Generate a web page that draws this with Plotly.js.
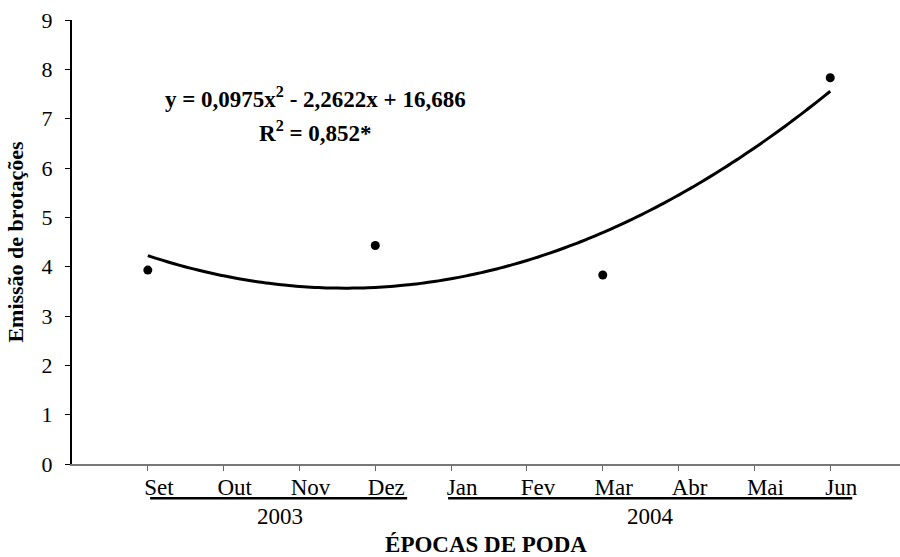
<!DOCTYPE html>
<html>
<head>
<meta charset="utf-8">
<script src="https://cdn.plot.ly/plotly-3.0.1.min.js"></script>
<style>
  html, body { margin: 0; padding: 0; background: #fff; }
  #chart { width: 900px; height: 557px; }
</style>
</head>
<body>
<div id="chart"></div>
<script>
// Pruning months (numbered from Jan 2003 = 1) and their labels
const monthNums = [9, 10, 11, 12, 13, 14, 15, 16, 17, 18];
const monthLabels = ['Set', 'Out', 'Nov', 'Dez', 'Jan', 'Fev', 'Mar', 'Abr', 'Mai', 'Jun'];

// Observed shoot emission
const obsMonths = [9, 12, 15, 18];
const obsValues = [3.93, 4.43, 3.83, 7.83];

// Quadratic fit: y = a x^2 + b x + c
const fitA = 0.0975, fitB = -2.2622, fitC = 16.686;
const fitX = [], fitY = [];
for (let i = 0; i <= 90; i++) {
  const x = 9 + i * 0.1;
  fitX.push(x);
  fitY.push(fitA * x * x + fitB * x + fitC);
}

const serif = '"Liberation Serif", "Times New Roman", "DejaVu Serif", serif';

const traces = [
  {
    x: fitX, y: fitY, mode: 'lines', type: 'scatter',
    line: { color: '#000', width: 3, shape: 'spline' },
    hoverinfo: 'skip', showlegend: false
  },
  {
    x: obsMonths, y: obsValues, mode: 'markers', type: 'scatter',
    marker: { color: '#000', size: 9 },
    showlegend: false
  }
];

const layout = {
  width: 900, height: 557,
  margin: { l: 72, r: 0, t: 20, b: 93 },
  paper_bgcolor: '#fff', plot_bgcolor: '#fff',
  font: { family: serif, color: '#000', size: 23 },
  showlegend: false,
  xaxis: {
    range: [8, 18.92],
    tickvals: monthNums, ticktext: monthLabels,
    ticks: 'outside', ticklen: 5, tickcolor: '#666', tickwidth: 1,
    showline: true, linecolor: '#777', linewidth: 2,
    showgrid: false, zeroline: false,
    ticklabelshift: 11, ticklabelstandoff: -4,
    tickfont: { family: serif, size: 23, color: '#000' },
    title: {
      text: '<b>ÉPOCAS DE PODA</b>',
      font: { family: serif, size: 23, color: '#000' },
      standoff: 42
    }
  },
  yaxis: {
    range: [0, 9], dtick: 1,
    ticks: 'outside', ticklen: 5, tickcolor: '#000', tickwidth: 1,
    showline: true, linecolor: '#000', linewidth: 2,
    showgrid: false, zeroline: false,
    ticklabelstandoff: 8,
    tickfont: { family: serif, size: 22, color: '#000' },
    title: {
      text: '<b>Emissão de brotações</b>',
      font: { family: serif, size: 22, color: '#000' },
      standoff: 12
    }
  },
  shapes: [
    { type: 'line', xref: 'x', yref: 'paper', x0: 9.03, x1: 12.42, y0: -0.077, y1: -0.077,
      line: { color: '#000', width: 2.5 } },
    { type: 'line', xref: 'x', yref: 'paper', x0: 12.96, x1: 18.29, y0: -0.077, y1: -0.077,
      line: { color: '#000', width: 2.5 } }
  ],
  annotations: [
    { xref: 'x', yref: 'paper', x: 10.744, y: -0.118, yanchor: 'middle', text: '2003', showarrow: false,
      font: { family: serif, size: 23, color: '#000' } },
    { xref: 'x', yref: 'paper', x: 15.63, y: -0.118, yanchor: 'middle', text: '2004', showarrow: false,
      font: { family: serif, size: 23, color: '#000' } },
    { xref: 'x', yref: 'y', x: 11.21, y: 7.42, yanchor: 'middle',
      text: '<b>y = 0,0975x<sup>2</sup> - 2,2622x + 16,686</b>', showarrow: false,
      font: { family: serif, size: 23, color: '#000' } },
    { xref: 'x', yref: 'y', x: 11.21, y: 6.73, yanchor: 'middle',
      text: '<b>R<sup>2</sup> = 0,852*</b>', showarrow: false,
      font: { family: serif, size: 23, color: '#000' } }
  ]
};

Plotly.newPlot('chart', traces, layout, { displayModeBar: false, staticPlot: true });
</script>
</body>
</html>
